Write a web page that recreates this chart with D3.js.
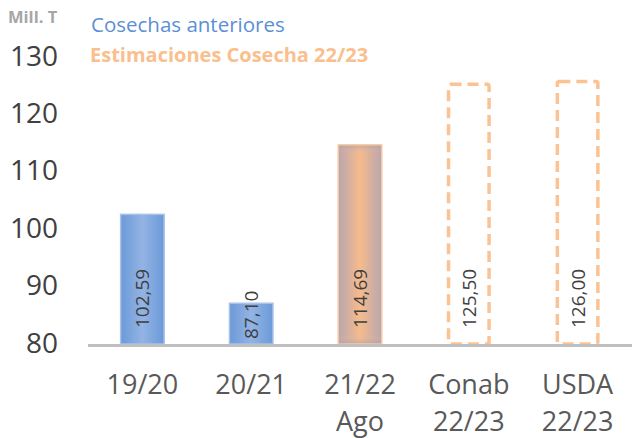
<!DOCTYPE html>
<html>
<head>
<meta charset="utf-8">
<script src="https://cdn.jsdelivr.net/npm/d3@7"></script>
<style>
  body { margin: 0; background: #fff; }
  text { font-family: "Open Sans", sans-serif; }
</style>
</head>
<body>
<div id="chart"></div>
<script>
// data
const CATEGORIES = ["19/20", "20/21", "21/22\nAgo", "Conab\n22/23", "USDA\n22/23"];
const VALUES = [102.59, 87.10, 114.69, 125.50, 126.00];
const LABELS = ["102,59", "87,10", "114,69", "125,50", "126,00"];
const KINDS = ["past", "past", "current", "estimate", "estimate"];
const Y_TICKS = [80, 90, 100, 110, 120, 130];

const FRAME_WIDTH = 632;
const FRAME_HEIGHT = 438;
const MARGINS = {left: 88, right: 0, top: 57, bottom: 94};
const VIS_WIDTH = FRAME_WIDTH - MARGINS.left - MARGINS.right;
const VIS_HEIGHT = FRAME_HEIGHT - MARGINS.top - MARGINS.bottom;

const FRAME = d3.select("#chart")
  .append("svg")
    .attr("width", FRAME_WIDTH)
    .attr("height", FRAME_HEIGHT);

// gradients
const defs = FRAME.append("defs");
function hGrad(id, edge, mid) {
  const g = defs.append("linearGradient").attr("id", id)
    .attr("x1", 0).attr("x2", 1).attr("y1", 0).attr("y2", 0);
  g.append("stop").attr("offset", "0%").attr("stop-color", edge);
  g.append("stop").attr("offset", "50%").attr("stop-color", mid);
  g.append("stop").attr("offset", "100%").attr("stop-color", edge);
}
hGrad("blueGrad", "#6b99d8", "#93b4e4");
hGrad("orangeGrad", "#b7a6b0", "#f6bb8c");
const vg = defs.append("linearGradient").attr("id", "orangeV")
  .attr("x1", 0).attr("x2", 0).attr("y1", 0).attr("y2", 1);
vg.append("stop").attr("offset", "0%").attr("stop-color", "#a9a3b6").attr("stop-opacity", 0.6);
vg.append("stop").attr("offset", "4%").attr("stop-color", "#f6bb8c").attr("stop-opacity", 0);
vg.append("stop").attr("offset", "96%").attr("stop-color", "#f6bb8c").attr("stop-opacity", 0);
vg.append("stop").attr("offset", "100%").attr("stop-color", "#a9a3b6").attr("stop-opacity", 0.6);

const X_SCALE = d3.scaleBand()
  .domain(CATEGORIES)
  .range([MARGINS.left, MARGINS.left + VIS_WIDTH])
  .paddingInner(0.6)
  .paddingOuter(0.3);

const Y_SCALE = d3.scaleLinear()
  .domain([80, 130])
  .range([MARGINS.top + VIS_HEIGHT, MARGINS.top]);

const data = CATEGORIES.map((c, i) => ({cat: c, val: VALUES[i], label: LABELS[i], kind: KINDS[i]}));

// y axis labels
const yAxis = FRAME.append("g")
  .attr("transform", "translate(" + (MARGINS.left - 30) + ",-2)")
  .call(d3.axisLeft(Y_SCALE).tickValues(Y_TICKS).tickSize(0).tickPadding(0));
yAxis.select(".domain").remove();
yAxis.selectAll("text")
  .attr("font-size", 28)
  .attr("fill", "#404040")
  .attr("dy", "0.36em")
  .style("font-family", "Open Sans, sans-serif");

// bars
const base = Y_SCALE(80);
const solid = data.filter(d => d.kind !== "estimate");
FRAME.selectAll(".bar")
  .data(solid)
  .enter().append("rect")
    .attr("class", "bar")
    .attr("x", d => X_SCALE(d.cat))
    .attr("y", d => Y_SCALE(d.val))
    .attr("width", X_SCALE.bandwidth())
    .attr("height", d => base - Y_SCALE(d.val))
    .attr("fill", d => d.kind === "past" ? "url(#blueGrad)" : "url(#orangeGrad)")
    .attr("stroke", d => d.kind === "past" ? "#a9c2ea" : "#f9c49c")
    .attr("stroke-width", 1.5);

FRAME.selectAll(".barv")
  .data(solid.filter(d => d.kind === "current"))
  .enter().append("rect")
    .attr("x", d => X_SCALE(d.cat) + 1)
    .attr("y", d => Y_SCALE(d.val) + 1)
    .attr("width", X_SCALE.bandwidth() - 2)
    .attr("height", d => base - Y_SCALE(d.val) - 2)
    .attr("fill", "url(#orangeV)");

FRAME.selectAll(".est")
  .data(data.filter(d => d.kind === "estimate"))
  .enter().append("rect")
    .attr("class", "est")
    .attr("x", d => X_SCALE(d.cat) + 1.5)
    .attr("y", d => Y_SCALE(d.val) + 1.5)
    .attr("width", X_SCALE.bandwidth() - 3)
    .attr("height", d => base - Y_SCALE(d.val) - 1.5)
    .attr("rx", 2)
    .attr("fill", "none")
    .attr("stroke", "#fbc393")
    .attr("stroke-width", 3.5)
    .attr("stroke-dasharray", "11,6");

// axis line
FRAME.append("line")
  .attr("x1", MARGINS.left).attr("x2", FRAME_WIDTH)
  .attr("y1", base + 1.5).attr("y2", base + 1.5)
  .attr("stroke", "#bfbfbf")
  .attr("stroke-width", 3);

// value labels, rotated, near the base
FRAME.selectAll(".vlabel")
  .data(data)
  .enter().append("text")
    .attr("class", "vlabel")
    .attr("transform", d => {
      const h = base - Y_SCALE(d.val);
      const end = h < 60 ? base - 5 : base - 16;
      return "translate(" + (X_SCALE(d.cat) + X_SCALE.bandwidth() / 2 + 7) + "," + end + ") rotate(-90)";
    })
    .attr("text-anchor", "start")
    .attr("font-size", 19)
    .attr("fill", "#404040")
    .text(d => d.label);

// category labels, one text per line
data.forEach(d => {
  d.cat.split("\n").forEach((line, i) => {
    FRAME.append("text")
      .attr("class", "xlabel")
      .attr("x", X_SCALE(d.cat) + X_SCALE.bandwidth() / 2)
      .attr("y", 394 + i * 37)
      .attr("text-anchor", "middle")
      .attr("font-size", 27)
      .attr("fill", "#595959")
      .text(line);
  });
});

// unit and legend texts
FRAME.append("text")
  .attr("x", 8).attr("y", 23)
  .attr("font-size", 16.5)
  .attr("font-weight", "bold")
  .attr("fill", "#a6a6a6")
  .text("Mill. T");

FRAME.append("text")
  .attr("x", 91).attr("y", 32)
  .attr("font-size", 20.5)
  .attr("fill", "#5b8fd6")
  .text("Cosechas anteriores");

FRAME.append("text")
  .attr("x", 90).attr("y", 62)
  .attr("font-size", 20)
  .attr("font-weight", "bold")
  .attr("fill", "#f9c08e")
  .text("Estimaciones Cosecha 22/23");
</script>
</body>
</html>
